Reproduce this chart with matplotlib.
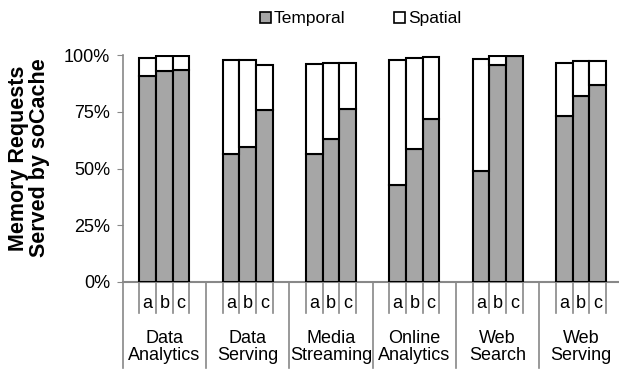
import numpy as np
import matplotlib
matplotlib.use("Agg")
import matplotlib.pyplot as plt
from matplotlib.patches import Patch

plt.rcParams["font.family"] = ["Liberation Sans", "DejaVu Sans"]

# values in percent of memory requests
workloads = ["Data\nAnalytics", "Data\nServing", "Media\nStreaming",
             "Online\nAnalytics", "Web\nSearch", "Web\nServing"]
configs = ["a", "b", "c"]
temporal = [
    [90.6, 93.0, 93.5],
    [56.2, 59.5, 75.7],
    [56.2, 63.2, 76.1],
    [42.6, 58.7, 71.8],
    [49.0, 95.5, 99.4],
    [73.1, 82.1, 86.8],
]
total = [
    [98.5, 99.4, 99.7],
    [97.8, 97.8, 95.7],
    [95.9, 96.3, 96.6],
    [97.8, 98.5, 99.1],
    [98.1, 99.4, 99.6],
    [96.5, 97.2, 97.5],
]
yticks = [0, 25, 50, 75, 100]

W, H = 619, 371
FS = 13
fig = plt.figure(figsize=(W / 100, H / 100), dpi=100)
x0, x1 = 122.7, 622.7
y0, y1 = 282.0, 55.0
ax = fig.add_axes([x0 / W, 1 - y0 / H, (x1 - x0) / W, (y0 - y1) / H])

temporal = np.array(temporal)
spatial = np.array(total) - temporal
slot = 5  # slots per group: blank, a, b, c, blank
pos = np.array([[g * slot + 1.5 + i for i in range(3)] for g in range(len(workloads))])

gray = "#a6a6a6"
ax.bar(pos.ravel(), temporal.ravel(), width=1.0, color=gray, edgecolor="black", linewidth=1.5, zorder=3)
ax.bar(pos.ravel(), spatial.ravel(), width=1.0, bottom=temporal.ravel(), color="white",
       edgecolor="black", linewidth=1.5, zorder=3)

ax.set_xlim(0, slot * len(workloads))
ax.set_ylim(0, 100)
ax.set_yticks(yticks)
ax.set_yticklabels([f"{v}%" for v in yticks], fontsize=FS)
ax.tick_params(axis="y", length=4, color="#888888", pad=5)
ax.set_xticks([])
for s in ["top", "right"]:
    ax.spines[s].set_visible(False)
ax.spines["left"].set_color("#888888")
ax.spines["bottom"].set_color("#888888")
ax.spines["left"].set_linewidth(1.2)
ax.spines["bottom"].set_linewidth(1.5)

# multi-level category axis
px = 1.0 / (y0 - y1)  # one pixel in axes fraction (vertical)
tr = ax.get_xaxis_transform()
for g, name in enumerate(workloads):
    base = g * slot
    ax.plot([base, base], [0, -86 * px], color="#888888", lw=1.2, transform=tr, clip_on=False)
    for k in range(1, 5):
        ax.plot([base + k, base + k], [0, -31 * px], color="#888888", lw=1.2, transform=tr, clip_on=False)
    for i, c in enumerate(configs):
        ax.text(pos[g, i], -21 * px, c, transform=tr, ha="center", va="center", fontsize=FS)
    ax.text(base + 2.5, -65 * px, name, transform=tr, ha="center", va="center",
            fontsize=FS, linespacing=1.05)

fig.text(29 / W, 1 - 158 / H, "Memory Requests\nServed by soCache", rotation=90,
         ha="center", va="center", fontsize=15.5, fontweight="bold", linespacing=1.0)

handles = [Patch(facecolor=gray, edgecolor="black", linewidth=1.2, label="Temporal"),
           Patch(facecolor="white", edgecolor="black", linewidth=1.2, label="Spatial")]
fig.legend(handles=handles, loc="center left", bbox_to_anchor=(260 / W, 1 - 19 / H), ncol=2,
           frameon=False, fontsize=12.5, handlelength=0.65, handleheight=0.65,
           handletextpad=0.15, columnspacing=2.8, borderpad=0, borderaxespad=0)

fig.savefig("out.png", dpi=100)
